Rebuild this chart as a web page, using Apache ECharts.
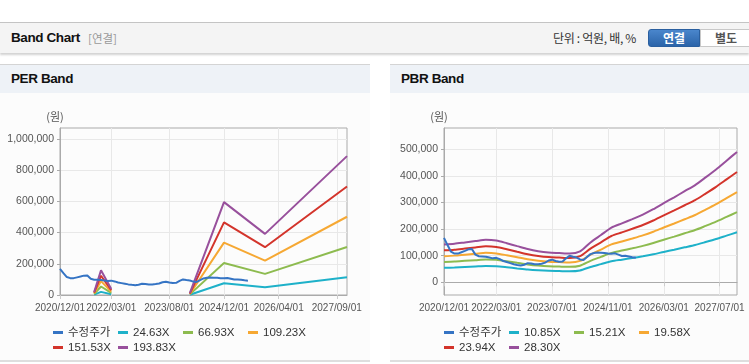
<!DOCTYPE html>
<html><head><meta charset="utf-8">
<script src="https://cdn.jsdelivr.net/npm/echarts@6/dist/echarts.min.js"></script>
<style>
html,body{margin:0;padding:0;width:749px;height:364px;overflow:hidden;background:#fff;font-family:'Liberation Sans','Noto Sans CJK KR',sans-serif;}
#hdr{position:absolute;left:0;top:22px;width:749px;height:30px;background:#f4f4f4;border-top:1px solid #c4c4c4;box-shadow:0 2px 2px rgba(0,0,0,0.18);}
#hdr .t{position:absolute;left:11px;top:0;line-height:30px;font-size:13.5px;font-weight:bold;color:#111;letter-spacing:-0.4px;}
#hdr .s{position:absolute;left:88px;top:0;line-height:30px;font-size:11.5px;color:#999;font-family:'Noto Sans CJK KR',sans-serif;}
#hdr .u{position:absolute;left:553px;top:0;line-height:30px;font-size:12px;color:#333;font-family:'Noto Sans CJK KR',sans-serif;letter-spacing:-0.3px;}
#b1{position:absolute;left:648px;top:6px;width:52px;height:18px;line-height:16px;text-align:center;color:#fff;font-weight:bold;font-size:12px;background:linear-gradient(#4a86cc,#2b64a9);border:1px solid #2a5f9f;border-radius:3px 0 0 3px;box-sizing:border-box;font-family:'Noto Sans CJK KR',sans-serif;}
#b2{position:absolute;left:700px;top:6px;width:52px;height:18px;line-height:16px;text-align:center;color:#555;font-weight:bold;font-size:12px;background:#fff;border:1px solid #c8c8c8;box-sizing:border-box;font-family:'Noto Sans CJK KR',sans-serif;}
.panel{position:absolute;top:64px;height:295px;background:#fcfcfc;border-top:1px solid #d4d4d4;border-bottom:2px solid #dedede;}
.panel .ph{height:28px;line-height:28px;background:#eef2f7;padding-left:11px;font-size:13.5px;font-weight:bold;color:#111;letter-spacing:-0.4px;}
#chart{position:absolute;left:0;top:0;width:749px;height:364px;z-index:2;}
</style></head>
<body>
<div id="hdr"><span class="t">Band Chart</span><span class="s">[연결]</span><span class="u">단위 : 억원, 배, %</span><div id="b1">연결</div><div id="b2">별도</div></div>
<div class="panel" style="left:0;width:370px;"><div class="ph">PER Band</div></div>
<div class="panel" style="left:390px;width:359px;"><div class="ph">PBR Band</div></div>
<div id="chart"></div>
<script>
// monthly categories 2020/12/01 .. 2027/12/01
const MONTHS = [];
for (let y = 2020, m = 12; y < 2027 || (y === 2027 && m <= 12); ) {
  MONTHS.push(y + '/' + String(m).padStart(2, '0') + '/01');
  m++; if (m > 12) { m = 1; y++; }
}
const PER_TICKS = ['2020/12/01','2022/03/01','2023/08/01','2024/12/01','2026/04/01','2027/09/01'];
const PBR_TICKS = ['2020/12/01','2022/03/01','2023/07/01','2024/11/01','2026/03/01','2027/07/01'];
const PER_Y_TICKS = [0,200000,400000,600000,800000,1000000];
const PBR_Y_TICKS = [0,100000,200000,300000,400000,500000];

// 수정주가 (monthly from 2020/12)
const PRICE = [167000,140000,115000,108000,108000,113000,118000,124000,125000,104000,
  98000,97000,96000,93000,90000,92000,87000,80000,76000,72000,
  68000,65000,63000,66000,72000,71000,68000,68000,70000,74000,
  82000,85000,80000,77000,78000,90000,100000,96000,93000,86000,
  84000,95000,106000,110000,112000,111000,110000,108000,107000,109000,
  104000,99000,100000,97000,94000,92000];

// PER band key months (null = gap)
const PER_MONTHS = ['2021/10/01','2021/12/01','2022/03/01','2022/04/01','2024/02/01','2024/12/01','2025/12/01','2027/12/01'];
const PER_24 = [2500,20100,4900,null,1500,75600,49800,113100];
const PER_66 = [6700,54500,13400,null,4000,205500,135200,307200];
const PER_109 = [10900,89000,21800,null,6600,335300,220600,501400];
const PER_151 = [15200,123500,30300,null,9100,465200,306100,695500];
const PER_193 = [19400,158000,38800,null,11600,595000,391500,889700];

// PBR band (every 3 months from 2020/12)
const PBR_MONTHS = MONTHS.filter((_, i) => i % 3 === 0);
const PBR_10 = [54400,55600,57500,59400,61300,60200,56400,52100,47900,44900,42900,42200,41400,44500,57500,68200,79000,85100,91200,97800,105400,114300,122700,131500,140300,151400,162900,175600,188200];
const PBR_15 = [76300,77900,80600,83300,86000,84400,79000,73100,67200,62900,60200,59100,58100,62400,80600,95700,110700,119300,127900,137100,147800,160200,172000,184400,196700,212300,228400,246200,263900];
const PBR_19 = [98200,100300,103800,107200,110700,108600,101700,94100,86500,81000,77500,76100,74700,80300,103800,123200,142500,153600,164700,176400,190300,206200,221400,237300,253200,273300,294100,316900,339700];
const PBR_23 = [120100,122700,126900,131100,135300,132800,124300,115000,105700,99000,94700,93000,91400,98100,126900,150600,174300,187800,201300,215700,232600,252100,270700,290100,309600,334100,359500,387400,415300];
const PBR_28 = [142000,145000,150000,155000,160000,157000,147000,136000,125000,117000,112000,110000,108000,116000,150000,178000,206000,222000,238000,255000,275000,298000,320000,343000,366000,395000,425000,458000,491000];

const C_PRICE = '#3574c4', C1 = '#1eb1c9', C2 = '#8dbb4f', C3 = '#f6a833', C4 = '#d3342b', C5 = '#98509c';
const FONT = "'Liberation Sans','Noto Sans CJK KR',sans-serif";

const pairs = (cats, vals) => cats.map((c, i) => [c, vals[i]]);
const fmt = v => Number(v).toLocaleString('en-US');

function xAxis(gi, ticks) {
  const f = (i, v) => ticks.indexOf(v) >= 0;
  return {type:'category', gridIndex:gi, data:MONTHS, boundaryGap:false,
    axisLine:{show:true, lineStyle:{color:'#aaa'}},
    axisTick:{show:true, length:4, interval:f, lineStyle:{color:'#ccc'}},
    axisLabel:{interval:f, hideOverlap:false, color:'#555', fontSize:10, margin:8, fontFamily:FONT},
    splitLine:{show:true, interval:f, lineStyle:{color:'#e8e8e8'}}};
}
function yAxis(gi, min, max, ticks) {
  return {type:'value', gridIndex:gi, min:min, max:max,
    name:'(원)', nameLocation:'end', nameGap:6,
    nameTextStyle:{color:'#555', fontSize:11, fontFamily:"'Noto Sans CJK KR',sans-serif", padding:[0,10,0,0]},
    axisLine:{show:true, lineStyle:{color:'#aaa'}},
    axisTick:{show:true, length:3, customValues:ticks, lineStyle:{color:'#aaa'}},
    axisLabel:{customValues:ticks, color:'#555', fontSize:10.5, margin:6, fontFamily:FONT, formatter:fmt},
    splitLine:{show:true, lineStyle:{color:'#e8e8e8'}}};
}
function line(name, data, color, xi, yi, smooth) {
  return {name:name, type:'line', data:data, xAxisIndex:xi, yAxisIndex:yi, showSymbol:false, symbol:'none',
    smooth:smooth || false, lineStyle:{width:2, color:color}, itemStyle:{color:color}, connectNulls:false, z:2};
}
const legendBase = {orient:'horizontal', top:320, width:262, itemWidth:10, itemHeight:3, itemGap:0, icon:'rect',
  textStyle:{width:50, fontSize:11.5, lineHeight:15, color:'#333', fontFamily:FONT}};

const chart = echarts.init(document.getElementById('chart'), null, {renderer:'canvas'});
chart.setOption({
  animation:false,
  backgroundColor:'transparent',
  grid:[
    {left:60, top:128, width:287, height:167, show:true, borderColor:'#aaa', borderWidth:1, backgroundColor:'transparent'},
    {left:444, top:128, width:293, height:167, show:true, borderColor:'#aaa', borderWidth:1, backgroundColor:'transparent'}
  ],
  xAxis:[xAxis(0, PER_TICKS), xAxis(1, PBR_TICKS)],
  yAxis:[yAxis(0, 0, 1070000, PER_Y_TICKS), yAxis(1, -48000, 581000, PBR_Y_TICKS)],
  legend:[
    Object.assign({}, legendBase, {left:48, data:['수정주가','24.63X','66.93X','109.23X','151.53X','193.83X']}),
    Object.assign({}, legendBase, {left:439, data:['수정주가','10.85X','15.21X','19.58X','23.94X','28.30X']})
  ],
  series:[
    line('24.63X', pairs(PER_MONTHS, PER_24), C1, 0, 0),
    line('66.93X', pairs(PER_MONTHS, PER_66), C2, 0, 0),
    line('109.23X', pairs(PER_MONTHS, PER_109), C3, 0, 0),
    line('151.53X', pairs(PER_MONTHS, PER_151), C4, 0, 0),
    line('193.83X', pairs(PER_MONTHS, PER_193), C5, 0, 0),
    line('수정주가', pairs(MONTHS.slice(0, PRICE.length), PRICE), C_PRICE, 0, 0),
    line('10.85X', pairs(PBR_MONTHS, PBR_10), C1, 1, 1, 0.25),
    line('15.21X', pairs(PBR_MONTHS, PBR_15), C2, 1, 1, 0.25),
    line('19.58X', pairs(PBR_MONTHS, PBR_19), C3, 1, 1, 0.25),
    line('23.94X', pairs(PBR_MONTHS, PBR_23), C4, 1, 1, 0.25),
    line('28.30X', pairs(PBR_MONTHS, PBR_28), C5, 1, 1, 0.25),
    line('수정주가', pairs(MONTHS.slice(0, PRICE.length), PRICE), C_PRICE, 1, 1)
  ]
});
</script>
</body></html>
